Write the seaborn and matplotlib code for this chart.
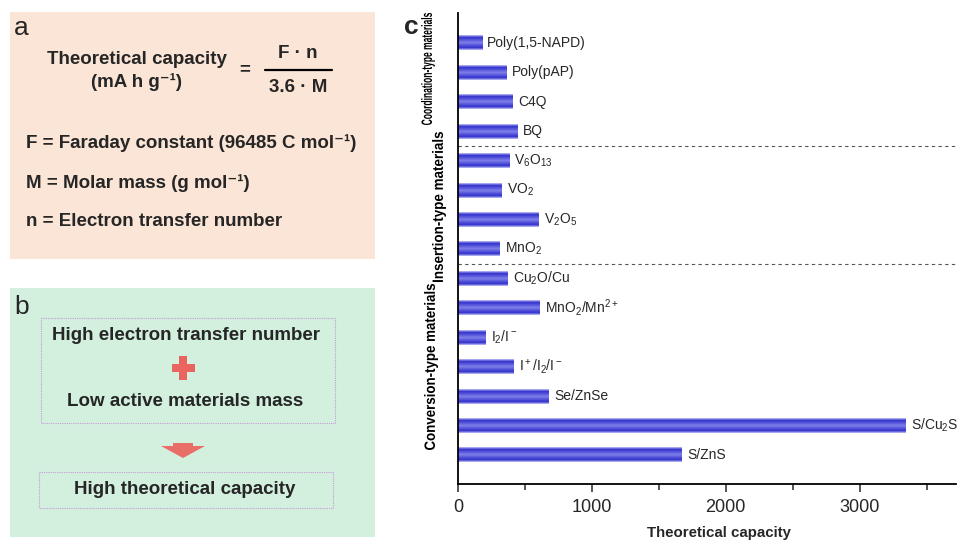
import numpy as np
import pandas as pd
import matplotlib
matplotlib.use("Agg")
import matplotlib.pyplot as plt
import seaborn as sns
from matplotlib.colors import LinearSegmentedColormap
from matplotlib.patches import Rectangle, Polygon, PathPatch
from matplotlib.textpath import TextPath
from matplotlib.font_manager import FontProperties
from matplotlib.transforms import Affine2D
from matplotlib.ticker import MultipleLocator

# ---- data ----
materials = ["Poly(1,5-NAPD)", "Poly(pAP)", "C4Q", "BQ",
             r"V$_6$O$_{13}$", r"VO$_2$", r"V$_2$O$_5$", r"MnO$_2$",
             r"Cu$_2$O/Cu", r"MnO$_2$/Mn$^{2+}$", r"I$_2$/I$^-$",
             r"I$^+$/I$_2$/I$^-$", "Se/ZnSe", r"S/Cu$_2$S", "S/ZnS"]
capacity = [180, 366, 410, 448, 381, 328, 604, 313,
            373, 612, 209, 418, 679, 3343, 1672]
group_names = ["Coordination-type materials", "Insertion-type materials",
               "Conversion-type materials"]
x_ticks = [0, 1000, 2000, 3000]

df = pd.DataFrame({"material": materials, "capacity": capacity})

sns.set_style("white")
plt.rcParams["font.family"] = ["Liberation Sans", "DejaVu Sans"]
plt.rcParams["mathtext.fontset"] = "custom"
plt.rcParams["mathtext.rm"] = "Liberation Sans"
plt.rcParams["mathtext.it"] = "Liberation Sans:italic"
plt.rcParams["mathtext.bf"] = "Liberation Sans:bold"
plt.rcParams["mathtext.default"] = "regular"

W, H = 958, 541
fig = plt.figure(figsize=(W / 100, H / 100), dpi=100)

# overlay in pixel coordinates for panels a and b
bg = fig.add_axes([0, 0, 1, 1], zorder=0)
bg.set_xlim(0, W)
bg.set_ylim(H, 0)
bg.axis("off")

# ---- panel a ----
bg.add_patch(Rectangle((10, 12), 365, 247, facecolor="#fbe5d6", edgecolor="none"))
bg.text(14, 28, "a", fontsize=19, va="center", ha="left")
bold = dict(fontsize=13.5, fontweight="bold", va="center")
bg.text(137, 60, "Theoretical capacity", ha="center", **bold)
bg.text(137, 82, "(mA h g⁻¹)", ha="center", **bold)
bg.text(245, 70, "=", ha="center", **bold)
bg.text(298, 54, "F · n", ha="center", **bold)
bg.plot([265, 332], [70, 70], color="black", lw=1.6)
bg.text(298, 88, "3.6 · M", ha="center", **bold)
bg.text(26, 143, "F = Faraday constant (96485 C mol⁻¹)", ha="left", **bold)
bg.text(26, 183, "M = Molar mass (g mol⁻¹)", ha="left", **bold)
bg.text(26, 222, "n = Electron transfer number", ha="left", **bold)

# ---- panel b ----
bg.add_patch(Rectangle((10, 288), 365, 249, facecolor="#d3f0df", edgecolor="none"))
bg.text(14, 307, "b", fontsize=19, va="center", ha="left")
bg.add_patch(Rectangle((41, 318), 294, 105, facecolor="none", edgecolor="#c79ad6",
                       lw=0.8, linestyle=(0, (1, 1))))
bg.add_patch(Rectangle((39, 472), 294, 36, facecolor="none", edgecolor="#c79ad6",
                       lw=0.8, linestyle=(0, (1, 1))))
bg.text(186, 336, "High electron transfer number", ha="center", **bold)
bg.add_patch(Rectangle((172, 364), 23, 8, facecolor="#ea6560", edgecolor="none"))
bg.add_patch(Rectangle((179.5, 356), 8, 24, facecolor="#ea6560", edgecolor="none"))
bg.text(185, 402, "Low active materials mass", ha="center", **bold)
bg.add_patch(Polygon([(173, 443), (193, 443), (193, 446), (205, 446), (183, 458),
                      (161, 446), (173, 446)], closed=True,
                     facecolor="#ea6e68", edgecolor="none"))
bg.text(185, 489, "High theoretical capacity", ha="center", **bold)

# ---- panel c ----
left, right, top, bottom = 458, 956, 13, 484
ax = fig.add_axes([left / W, 1 - bottom / H, (right - left) / W, (bottom - top) / H],
                  zorder=1)
sns.barplot(data=df, y="material", x="capacity", orient="h", ax=ax,
            width=0.5, color="#3a3ad4", saturation=1)

# glossy gradient fill on each bar
cmap = LinearSegmentedColormap.from_list(
    "gloss", [(0.0, "#c4c4f6"), (0.15, "#2f2fcc"), (0.5, "#8080ec"),
              (0.85, "#2f2fcc"), (1.0, "#c4c4f6")])
grad = np.repeat(np.linspace(0, 1, 64).reshape(-1, 1), 2, axis=1)
for p in ax.patches:
    x0, y0 = p.get_x(), p.get_y()
    w, h = p.get_width(), p.get_height()
    p.set_facecolor("none")
    p.set_edgecolor("none")
    ax.imshow(grad, cmap=cmap, aspect="auto", extent=[x0, x0 + w, y0 + h, y0],
              interpolation="bilinear", zorder=2)
ax.set_xlim(0, 3720)
ax.set_ylim(len(materials) - 0.015, -1.02)

# labels at bar ends
for i, (name, val) in enumerate(zip(materials, capacity)):
    ax.annotate(name, xy=(val, i), xytext=(5, 0), textcoords="offset pixels",
                va="center", ha="left", fontsize=10)

for yb in (3.5, 7.5):
    ax.axhline(yb, color="#555555", lw=0.8, linestyle=(0, (3, 3)), zorder=1)

ax.set_yticks([])
ax.set_ylabel("")
ax.set_xticks(x_ticks)
ax.xaxis.set_minor_locator(MultipleLocator(500))
ax.tick_params(axis="x", which="major", direction="out", length=6, width=1.1,
               labelsize=13, pad=5, bottom=True)
ax.tick_params(axis="x", which="minor", direction="out", length=4, width=1.1,
               bottom=True)
for s in ("top", "right"):
    ax.spines[s].set_visible(False)
for s in ("left", "bottom"):
    ax.spines[s].set_color("black")
    ax.spines[s].set_linewidth(1.3)
ax.set_xlabel("Theoretical capacity", fontsize=10.8, fontweight="bold")
ax.xaxis.set_label_coords((719 - left) / (right - left), -(526 - bottom) / (bottom - top))
ax.xaxis.label.set_va("top")


def vertical_label(text, cx, y_top, y_bot, em=15):
    # rotated text squeezed to span y_top..y_bot (pixel coords, y down)
    tp = TextPath((0, 0), text, size=em,
                  prop=FontProperties(family="Liberation Sans", weight="bold"))
    ext = tp.get_extents()
    sx = (y_bot - y_top) / ext.width
    uc, vc = ext.x0 + ext.width / 2, ext.y0 + ext.height / 2
    tr = (Affine2D().translate(-uc, -vc).scale(sx, 1).rotate_deg(90)
          .scale(1, -1).translate(cx, (y_top + y_bot) / 2))
    bg.add_patch(PathPatch(tr.transform_path(tp), facecolor="black",
                           edgecolor="none", lw=0))


vertical_label(group_names[0], 428, 13, 125)
vertical_label(group_names[1], 439, 132, 282)
vertical_label(group_names[2], 431, 284, 450)
bg.text(404, 27, "c", fontsize=19, va="center", ha="left", fontweight="bold")

fig.savefig("out.png", dpi=100)
